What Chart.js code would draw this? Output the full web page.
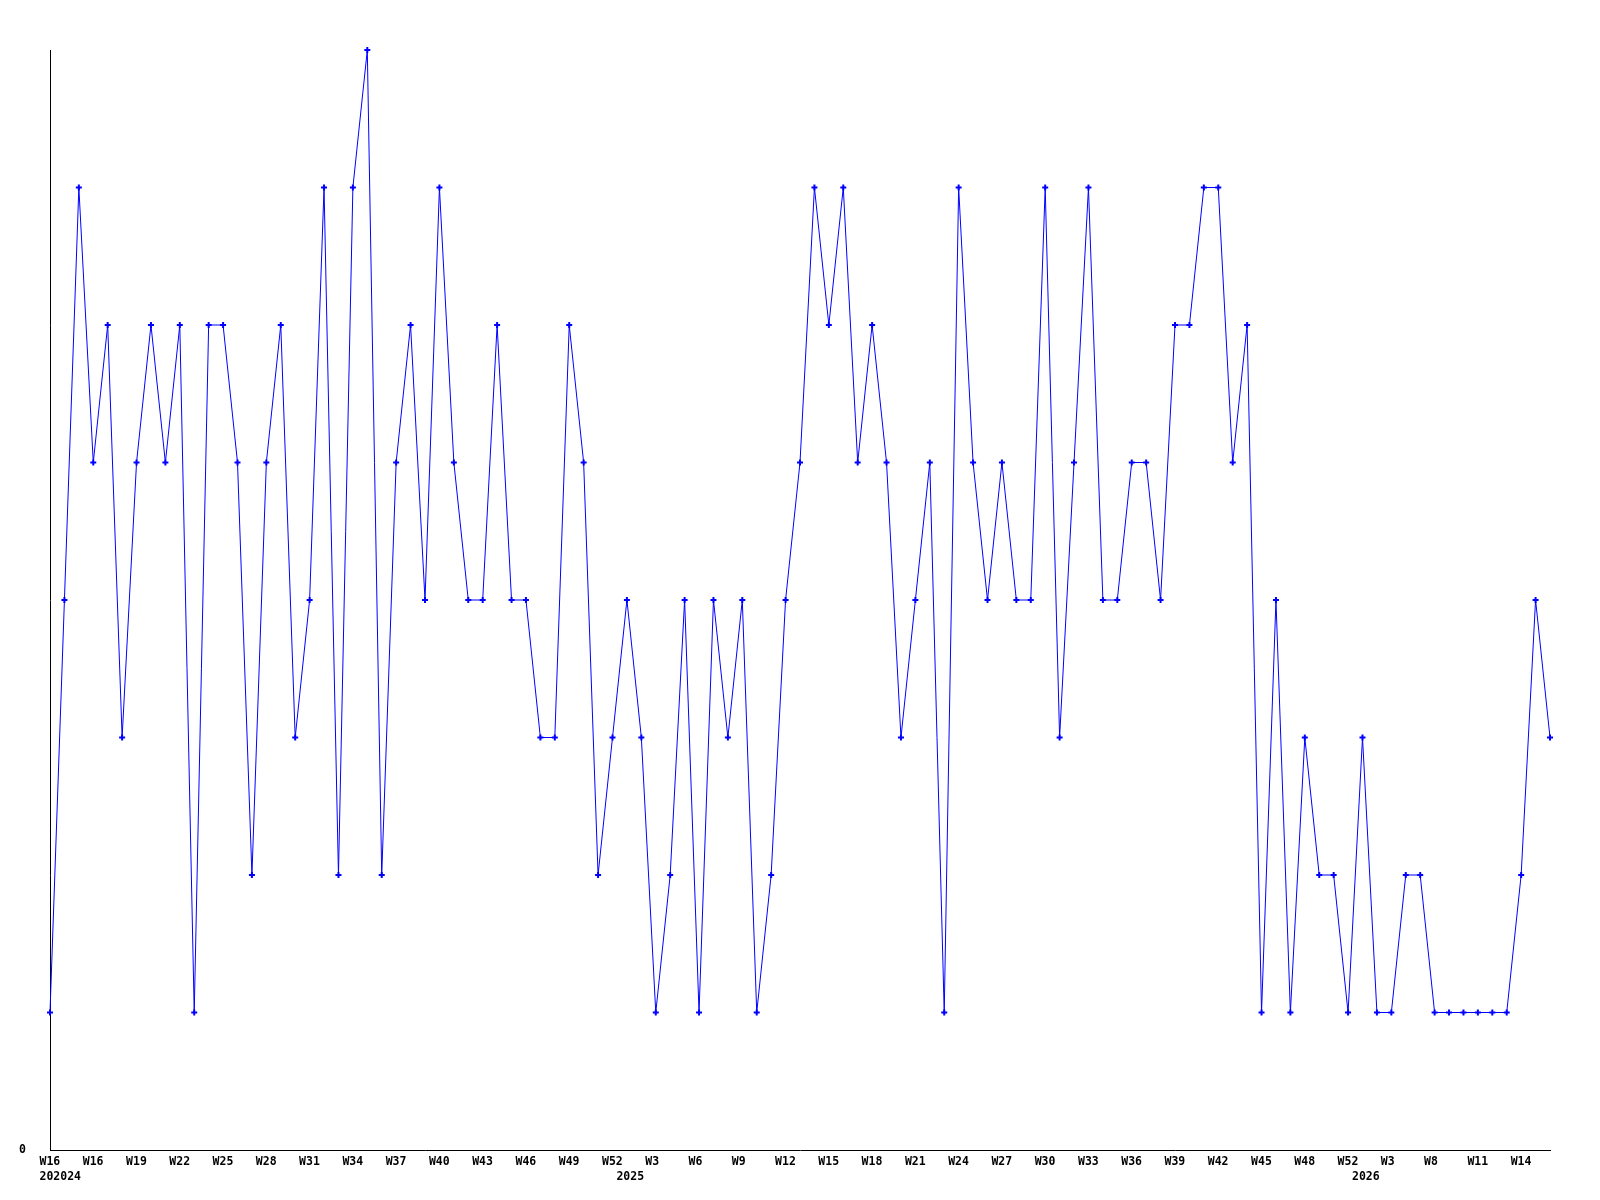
<!DOCTYPE html>
<html><head><meta charset="utf-8">
<script src="https://cdn.jsdelivr.net/npm/chart.js@4.4.1/dist/chart.umd.min.js"></script>
<style>html,body{margin:0;padding:0;background:#fff;} canvas{display:block;}</style>
</head><body>
<canvas id="c" width="1600" height="1200"></canvas>
<script>
// Weekly values (one point per category)
const values = [
  1,4,7,5,6,3,5,6,5,6,
  1,6,6,5,2,5,6,3,4,7,
  2,7,8,2,5,6,4,7,5,4,
  4,6,4,4,3,3,6,5,2,3,
  4,3,1,2,4,1,4,3,4,1,
  2,4,5,7,6,7,5,6,5,3,
  4,5,1,7,5,4,5,4,4,7,
  3,5,7,4,4,5,5,4,6,6,
  7,7,5,6,1,4,1,3,2,2,
  1,3,1,1,2,2,1,1,1,1,
  1,1,2,4,3
];
// Week tick labels, shown on every third point
const tickLabels = ['W16','W16','W19','W22','W25','W28','W31','W34','W37','W40','W43','W46','W49','W52','W3','W6','W9','W12',
  'W15','W18','W21','W24','W27','W30','W33','W36','W39','W42','W45','W48','W52','W3','W8','W11','W14'];
const tickEvery = 3;
// Year labels and the point index they sit under
const yearLabels = ['202024','2025','2026'];
const yearPositions = [0,40,91];
const yTickLabels = ['0'];

const labels = values.map((v,i)=>{
  const w = (i % tickEvery === 0 && tickLabels[i/tickEvery] !== undefined) ? tickLabels[i/tickEvery] : '';
  const yi = yearPositions.indexOf(i);
  return [w, yi >= 0 ? yearLabels[yi] : ''];
});

const tickFont = {family:'DejaVu Sans Mono', size:11.5, weight:'bold', lineHeight:15/11.5};

new Chart(document.getElementById('c').getContext('2d'), {
  type:'line',
  data:{labels:labels, datasets:[{
    data:values, borderColor:'#0000ff', borderWidth:1, tension:0, fill:false, clip:false,
    pointStyle:'cross', pointRadius:3, pointBorderWidth:2,
    pointBorderColor:'#0000ff', pointBackgroundColor:'#0000ff', pointHoverRadius:3
  }]},
  options:{
    responsive:false, animation:false, devicePixelRatio:1, events:[],
    layout:{padding:{top:50,right:50,left:0,bottom:0}},
    plugins:{legend:{display:false}, tooltip:{enabled:false}},
    scales:{
      x:{type:'category', offset:false,
        grid:{display:false, drawTicks:false},
        border:{display:true, color:'#000', width:1},
        ticks:{autoSkip:false, maxRotation:0, minRotation:0, align:'start', labelOffset:-10.5, padding:5, color:'#000', font:tickFont},
        afterFit(s){ s.height = 50; }
      },
      y:{min:0, max:8,
        grid:{display:false, drawTicks:false},
        border:{display:true, color:'#000', width:1},
        ticks:{stepSize:1, padding:24, color:'#000', font:tickFont,
          callback:(v)=> v === 0 ? yTickLabels[0] : ''},
        afterFit(s){ s.width = 50; }
      }
    }
  }
});
</script>
</body></html>
